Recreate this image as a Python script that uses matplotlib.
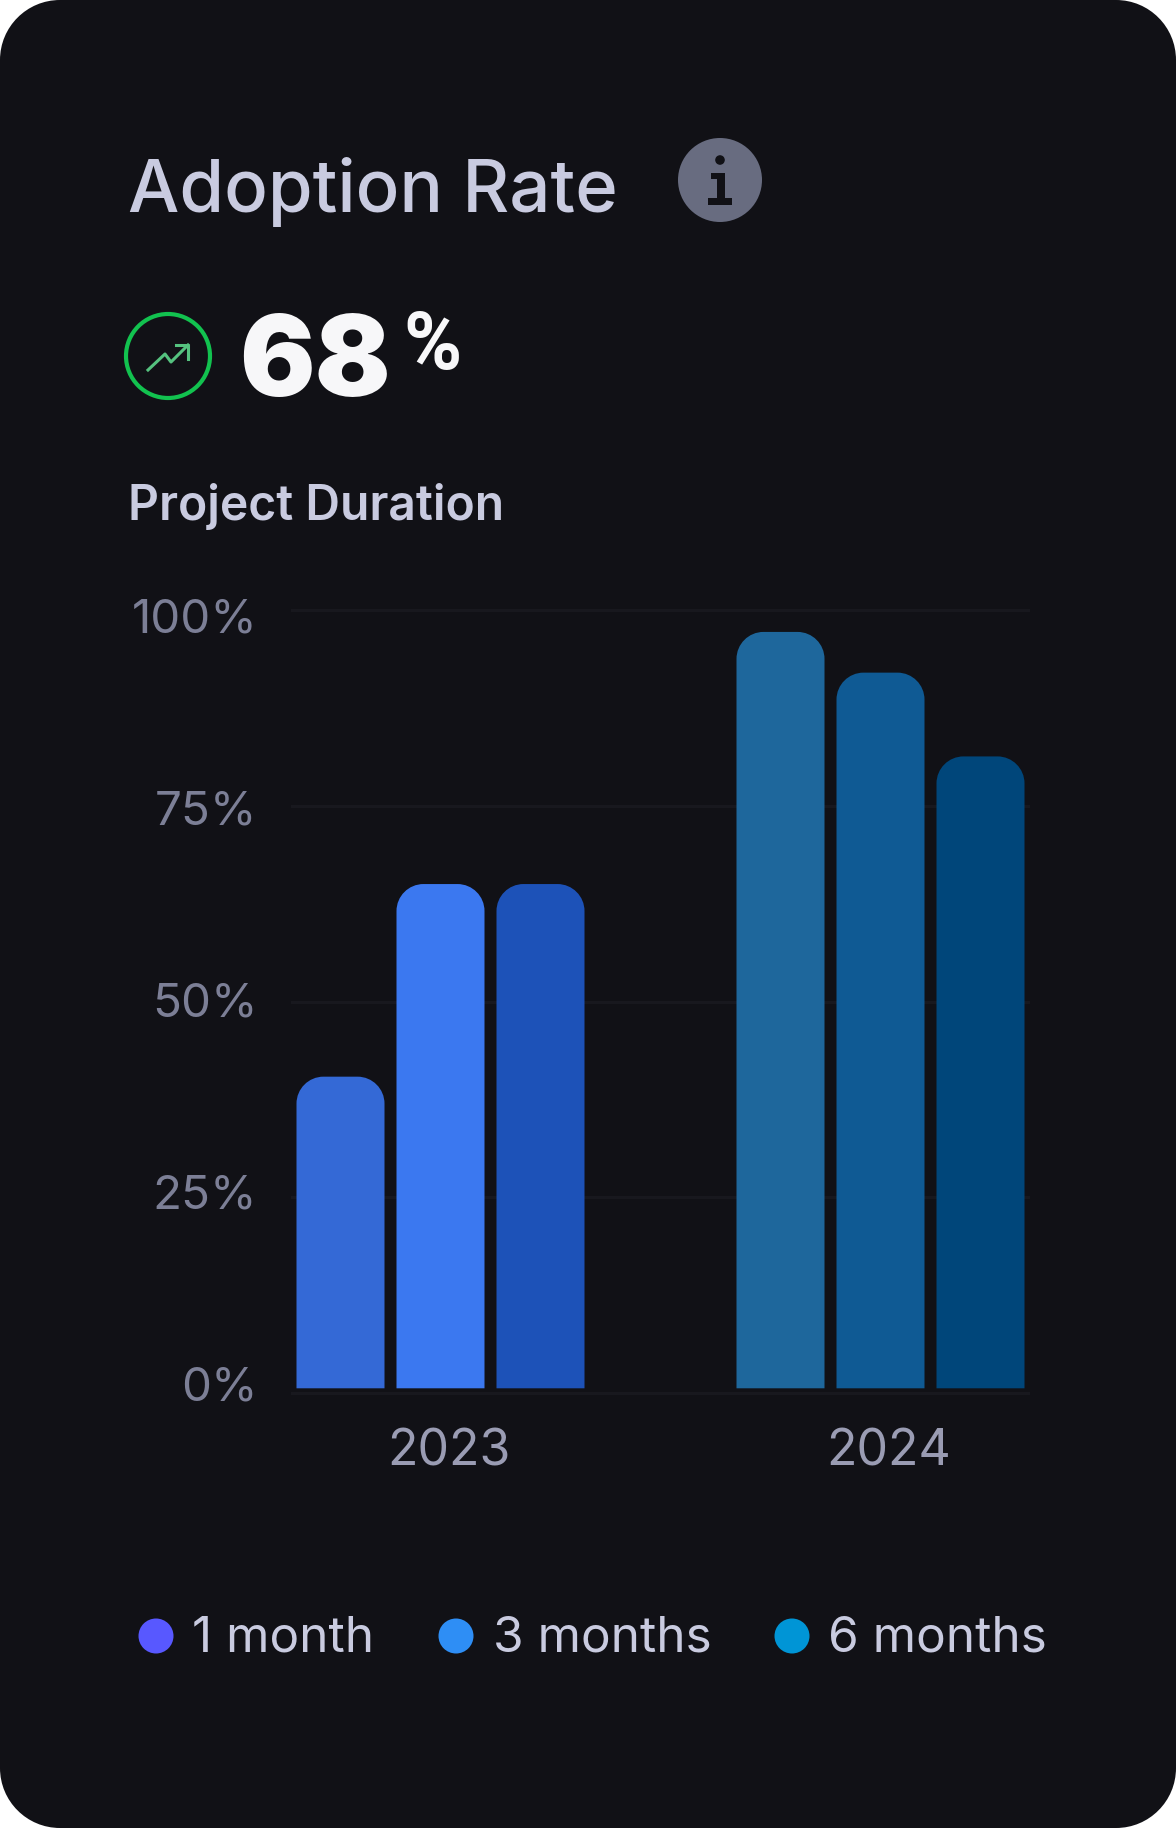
import matplotlib
matplotlib.use('Agg')
from matplotlib import pyplot as plt
from matplotlib.patches import Circle, PathPatch, Rectangle
from matplotlib.path import Path

plt.rcParams['font.family'] = ['Inter', 'DejaVu Sans']

# bar values in percent, per year
years = ['2023', '2024']
duration_labels = ['1 month', '3 months', '6 months']
values_2023 = [40.4, 65, 65]
values_2024 = [97.2, 92, 81.3]
colors_2023 = ['#3469d6', '#3b78f0', '#1d52b8']
colors_2024 = ['#1e679c', '#0f5a94', '#00467a']
legend_colors = ['#5858ff', '#2e8ef5', '#0095d6']
ytick_values = [0, 25, 50, 75, 100]

W, H = 1176, 1828
BG = '#111116'
K = 0.5523  # control point ratio for a quarter circle

fig = plt.figure(figsize=(W / 100, H / 100), dpi=100, facecolor='white')

# full size axes in pixels for the card, the header and the legend
over = fig.add_axes([0, 0, 1, 1])
over.set_xlim(0, W)
over.set_ylim(H, 0)
over.axis('off')


def top_round(left, right, top, bottom, rx, ry):
  # outline going up the left side and over the top, y axis pointing either way
  return ([(left, bottom), (left, top - ry), (left, top - ry * (1 - K)), (left + rx * (1 - K), top), (left + rx, top),
           (right - rx, top), (right - rx * (1 - K), top), (right, top - ry * (1 - K)), (right, top - ry), (right, bottom)],
          [Path.MOVETO, Path.LINETO, Path.CURVE4, Path.CURVE4, Path.CURVE4,
           Path.LINETO, Path.CURVE4, Path.CURVE4, Path.CURVE4, Path.LINETO])


# card, rounded on all four corners
r = 60
v, c = top_round(0, W, 0, H - r, r, -r)
k = r * (1 - K)
v += [(W, H - k), (W - k, H), (W - r, H), (r, H), (k, H), (0, H - k), (0, H - r), (0, 0)]
c += [Path.CURVE4, Path.CURVE4, Path.CURVE4, Path.LINETO, Path.CURVE4, Path.CURVE4, Path.CURVE4, Path.CLOSEPOLY]
over.add_patch(PathPatch(Path(v, c), facecolor=BG, edgecolor='none'))


def label(x, y, s, size_px, color, weight='normal', ha='left', **kw):
  over.text(x, y, s, fontsize=size_px * 0.72, color=color, fontweight=weight, ha=ha, va='baseline', **kw)


label(128, 212, 'Adoption Rate', 72.5, '#c9cbe0', weight='medium')

# info badge
over.add_patch(Circle((720, 180), 42, facecolor='#686c80', edgecolor='none'))
over.add_patch(Circle((720, 160), 4.8, facecolor=BG, edgecolor='none'))
over.add_patch(Rectangle((711, 173), 14, 6, facecolor=BG, edgecolor='none'))
over.add_patch(Rectangle((717, 173), 8, 28, facecolor=BG, edgecolor='none'))
over.add_patch(Rectangle((708, 198), 24, 6.5, facecolor=BG, edgecolor='none'))

# trend badge
over.add_patch(Circle((168, 356), 42, facecolor='none', edgecolor='#12c24f', linewidth=3))
over.plot([148, 165, 171, 188], [370, 354, 362, 345], color='#55c27f', linewidth=2.2)
over.plot([176, 188, 188], [345, 345, 359], color='#55c27f', linewidth=2.2)

label(239, 396, '68', 112, '#f7f7f9', weight='black')
label(403, 369, '%', 79, '#f7f7f9', weight='bold', family='Roboto')
label(128.5, 520, 'Project Duration', 48, '#c9cbe0', weight='semibold')

# tick labels sit on their own spacing, a little tighter than the grid
for t in ytick_values:
  label(257.5, 1400.5 - t * 7.68, '%d%%' % t, 47.5, '#7c7f96', ha='right')

label(449, 1466, years[0], 50, '#9a9cb3', ha='center')
label(889, 1466, years[1], 50, '#9a9cb3', ha='center')

# legend
for cx, tx, col, s in zip([156, 456, 792], [192, 493, 828.5], legend_colors, duration_labels):
  over.add_patch(Circle((cx, 1636), 17.5, facecolor=col, edgecolor='none'))
  label(tx, 1651, s, 49.5, '#c9cbe0')

# bar chart
ax_left, ax_right, ax_top, ax_bottom = 292, 1028, 610, 1393
ax = fig.add_axes([ax_left / W, 1 - ax_bottom / H, (ax_right - ax_left) / W, (ax_bottom - ax_top) / H])
ax.patch.set_alpha(0)
unit = 440.0
x0 = (440.5 - ax_left) / unit
ax.set_xlim(-x0, (ax_right - ax_left) / unit - x0)
ax.set_ylim(0, 100)
for s in ax.spines.values():
  s.set_visible(False)
ax.set_xticks([])
ax.set_yticks(ytick_values)
ax.set_yticklabels([])
ax.tick_params(length=0)
ax.grid(axis='y', color='#18181e', linewidth=2.2)
ax.set_axisbelow(True)
for line in ax.get_ygridlines():
  line.set_clip_on(False)

bar_w = 88 / unit
step = 100 / unit
base = 0.6
rx = 27 / unit
ry = 27 / 7.83


def rounded_bar(x, top, color):
  verts, codes = top_round(x - bar_w / 2, x + bar_w / 2, top, base, rx, ry)
  verts.append((x - bar_w / 2, base))
  codes.append(Path.CLOSEPOLY)
  ax.add_patch(PathPatch(Path(verts, codes), facecolor=color, edgecolor='none', zorder=3))


for group, (vals, cols) in enumerate([(values_2023, colors_2023), (values_2024, colors_2024)]):
  for i, (val, col) in enumerate(zip(vals, cols)):
    rounded_bar(group + (i - 1) * step, val, col)

fig.savefig('out.png', dpi=100, facecolor='white')
